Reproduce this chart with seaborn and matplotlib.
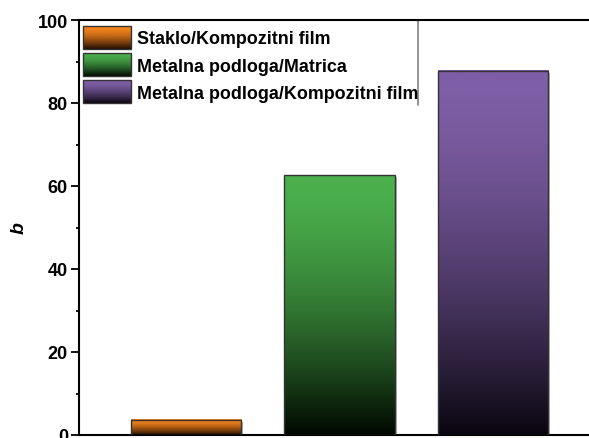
import numpy as np
import pandas as pd
import seaborn as sns
import matplotlib.pyplot as plt
from matplotlib.colors import LinearSegmentedColormap, Normalize
from matplotlib.image import BboxImage
from matplotlib.transforms import Bbox, TransformedBbox
from matplotlib.patches import Rectangle
from matplotlib.ticker import MultipleLocator

# data
labels = ["Staklo/Kompozitni film", "Metalna podloga/Matrica", "Metalna podloga/Kompozitni film"]
values = [3.7, 62.6, 87.8]
top_colors = ["#F7861D", "#4BB04C", "#7F5FA7"]
bottom_colors = ["#1E0C00", "#000800", "#0A0610"]

sns.set_style("ticks")
plt.rcParams["font.family"] = ["Liberation Sans", "DejaVu Sans"]
plt.rcParams["font.weight"] = "bold"
for k in ["text.color", "axes.labelcolor", "xtick.color", "ytick.color"]:
    plt.rcParams[k] = "black"

# vertical fade: bright at top, dark at bottom
t = np.linspace(0, 1, 256)
grad = (1 - t ** 1.6).reshape(-1, 1)

cmaps = [LinearSegmentedColormap.from_list(f"g{i}", [b, c])
         for i, (c, b) in enumerate(zip(top_colors, bottom_colors))]

fig = plt.figure(figsize=(5.89, 4.39), dpi=100)
ax = fig.add_axes([79 / 589, 3 / 439, 522 / 589, 415 / 439])

df = pd.DataFrame({"label": labels, "b": values})
sns.barplot(data=df, x="label", y="b", hue="label", palette=top_colors,
            width=0.717, legend=False, ax=ax, edgecolor="#333333", linewidth=1.0)

for patch, cm in zip(list(ax.patches), cmaps):
    x0, y0 = patch.get_x(), patch.get_y()
    w, h = patch.get_width(), patch.get_height()
    # light grey drop shadow on the right, as in the original
    ax.add_patch(Rectangle((x0 + 0.014, y0), w, h - 0.5, facecolor="#BDBDBD",
                           edgecolor="none", zorder=1))
    ax.imshow(grad, extent=[x0, x0 + w, y0, y0 + h], aspect="auto",
              cmap=cm, norm=Normalize(0, 1), interpolation="bicubic", zorder=2)
    patch.set_facecolor("none")
    patch.set_zorder(3)

ax.set_xlim(-0.697, 2.703)
ax.set_ylim(0, 100)
ax.yaxis.set_major_locator(MultipleLocator(20))
ax.yaxis.set_minor_locator(MultipleLocator(10))
ax.tick_params(axis="y", which="major", direction="out", length=5.5, width=1.3,
               labelsize=13, pad=2.5, colors="black")
ax.tick_params(axis="y", which="minor", direction="out", length=2.5, width=1.3,
               colors="black")
ax.set_xticks([])
ax.set_xlabel("")
ax.set_ylabel("b", fontsize=14, fontweight="bold", fontstyle="italic",
              labelpad=7, color="black")
for lab in ax.get_yticklabels():
    lab.set_fontweight("bold")
for s in ax.spines.values():
    s.set_linewidth(1.5)
    s.set_color("black")


class GradHandler:
    def __init__(self, cmap):
        self.cmap = cmap

    def legend_artist(self, legend, orig_handle, fontsize, handlebox):
        x0, y0 = -handlebox.xdescent, -handlebox.ydescent
        w, h = handlebox.width, handlebox.height
        tr = handlebox.get_transform()
        bbox = TransformedBbox(Bbox.from_bounds(x0, y0, w, h), tr)
        img = BboxImage(bbox, cmap=self.cmap, norm=Normalize(0, 1),
                        interpolation="bicubic")
        img.set_data(grad)
        handlebox.add_artist(img)
        rect = Rectangle((x0, y0), w, h, facecolor="none",
                         edgecolor="#333333", linewidth=1.0)
        handlebox.add_artist(rect)
        return rect


handles = [Rectangle((0, 0), 1, 1) for _ in labels]
leg = ax.legend(handles, labels,
                handler_map={h: GradHandler(cm) for h, cm in zip(handles, cmaps)},
                loc="upper left", bbox_to_anchor=((83 - 79) / 522, (436 - 27) / 415),
                borderaxespad=0, borderpad=0, frameon=False,
                prop={"size": 12.85, "weight": "bold"},
                handlelength=2.69, handleheight=1.6, handletextpad=0.33,
                labelspacing=0.24)
for txt in leg.get_texts():
    txt.set_color("black")

# right edge of the legend frame
ax.plot([0.649, 0.649], [0.998, 0.795], transform=ax.transAxes,
        color="#808080", linewidth=1.2, clip_on=False)

fig.savefig("out.png", dpi=100)
